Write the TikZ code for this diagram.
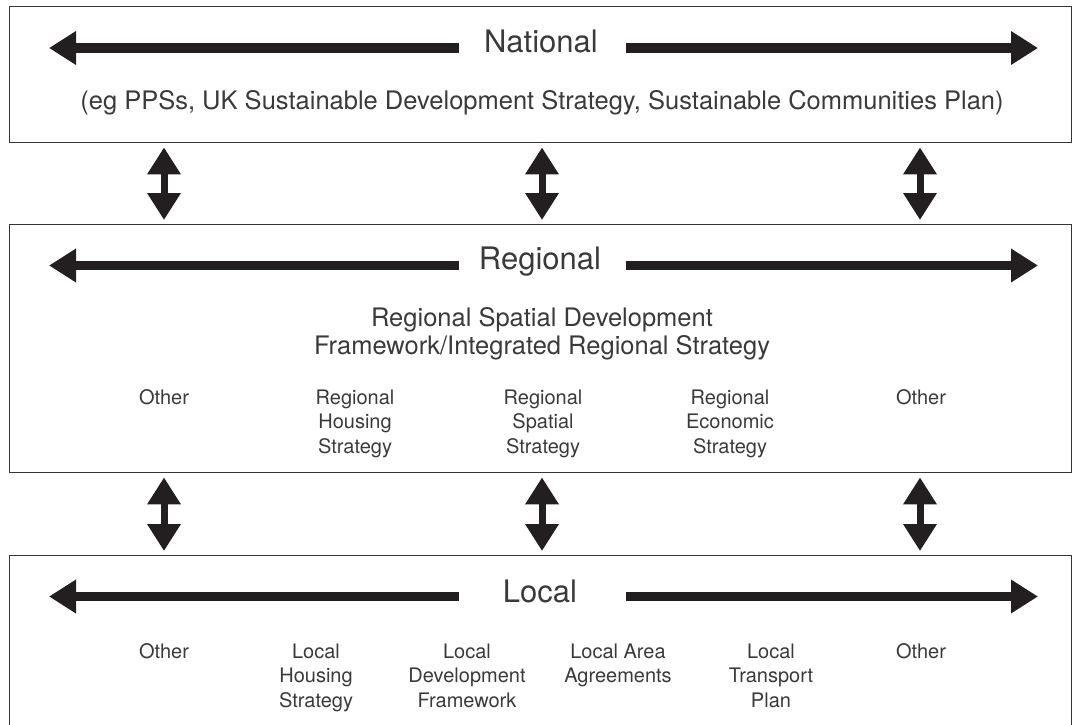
\documentclass[tikz,border=0pt]{standalone}
\usepackage{fontspec}
\setmainfont{TeX Gyre Heros}
\usetikzlibrary{arrows.meta}
\definecolor{ink}{HTML}{231F20}
\definecolor{txt}{HTML}{3A3A3A}
\newcommand\mystk[1]{\begin{tabular}[t]{@{}c@{}}#1\end{tabular}}
\begin{document}
\begin{tikzpicture}[x=1pt,y=-1pt,
  box/.style={draw=ink!90, line width=1.4pt, anchor=north west, inner sep=0pt, minimum width=1062pt},
  hbig/.style={draw=ink, line width=9.5pt, -{Triangle[length=27pt,width=32pt]}},
  vbig/.style={draw=ink, line width=7pt, {Triangle[length=27pt,width=32pt]}-{Triangle[length=27pt,width=32pt]}, shorten <=4pt, shorten >=4pt},
  ttl/.style={font=\fontsize{31}{36}\selectfont, text=txt, anchor=base, inner sep=0pt},
  sub/.style={font=\fontsize{25.5}{28.5}\selectfont, text=txt, anchor=base, inner sep=0pt},
  item/.style={font=\fontsize{20}{24.5}\selectfont, text=txt, anchor=base, inner sep=0pt}]
\useasboundingbox (0,0) rectangle (1077,724);
\clip (0,0) rectangle (1077,724);
% boxes
\node[box, minimum height=136pt] (nat) at (9,6) {};
\node[box, minimum height=248pt] (reg) at (9,224) {};
\node[box, minimum height=190pt] (loc) at (9,555) {};
% columns
\coordinate (c1) at (164,0);
\coordinate (c2) at (542,0);
\coordinate (c3) at (920,0);
% vertical arrows
\draw[vbig] (nat.south -| c1) -- (reg.north -| c1);
\draw[vbig] (nat.south -| c2) -- (reg.north -| c2);
\draw[vbig] (nat.south -| c3) -- (reg.north -| c3);
\draw[vbig] (reg.south -| c1) -- (loc.north -| c1);
\draw[vbig] (reg.south -| c2) -- (loc.north -| c2);
\draw[vbig] (reg.south -| c3) -- (loc.north -| c3);
% horizontal arrow ends
\coordinate (nl1) at (459,48);   \coordinate (nl2) at (49,48);
\coordinate (nr1) at (626,48);   \coordinate (nr2) at (1038,48);
\coordinate (rl1) at (459,265.5); \coordinate (rl2) at (49,265.5);
\coordinate (rr1) at (626,265.5); \coordinate (rr2) at (1038,265.5);
\coordinate (ll1) at (459,596.5); \coordinate (ll2) at (49,596.5);
\coordinate (lr1) at (626,596.5); \coordinate (lr2) at (1038,596.5);
\draw[hbig] (nl1) -- (nl2);
\draw[hbig] (nr1) -- (nr2);
\draw[hbig] (rl1) -- (rl2);
\draw[hbig] (rr1) -- (rr2);
\draw[hbig] (ll1) -- (ll2);
\draw[hbig] (lr1) -- (lr2);
% national
\node[ttl] (natT) at (541,52) {National};
\node[sub] (natS) at (542,109) {(eg PPSs, UK Sustainable Development Strategy, Sustainable Communities Plan)};
% regional
\node[ttl] (regT) at (540,269) {Regional};
\node[sub] (regS) at (542,326) {\mystk{Regional Spatial Development\\Framework/Integrated Regional Strategy}};
\node[item] (r1) at (164,404) {Other};
\node[item] (r2) at (355,404) {\mystk{Regional\\Housing\\Strategy}};
\node[item] (r3) at (543,404) {\mystk{Regional\\Spatial\\Strategy}};
\node[item] (r4) at (730,404) {\mystk{Regional\\Economic\\Strategy}};
\node[item] (r5) at (921,404) {Other};
% local
\node[ttl] (locT) at (540,602) {Local};
\node[item] (l1) at (164,658) {Other};
\node[item] (l2) at (316,658) {\mystk{Local\\Housing\\Strategy}};
\node[item] (l3) at (467,658) {\mystk{Local\\Development\\Framework}};
\node[item] (l4) at (618,658) {\mystk{Local Area\\Agreements}};
\node[item] (l5) at (771,658) {\mystk{Local\\Transport\\Plan}};
\node[item] (l6) at (921,658) {Other};
\end{tikzpicture}
\end{document}
